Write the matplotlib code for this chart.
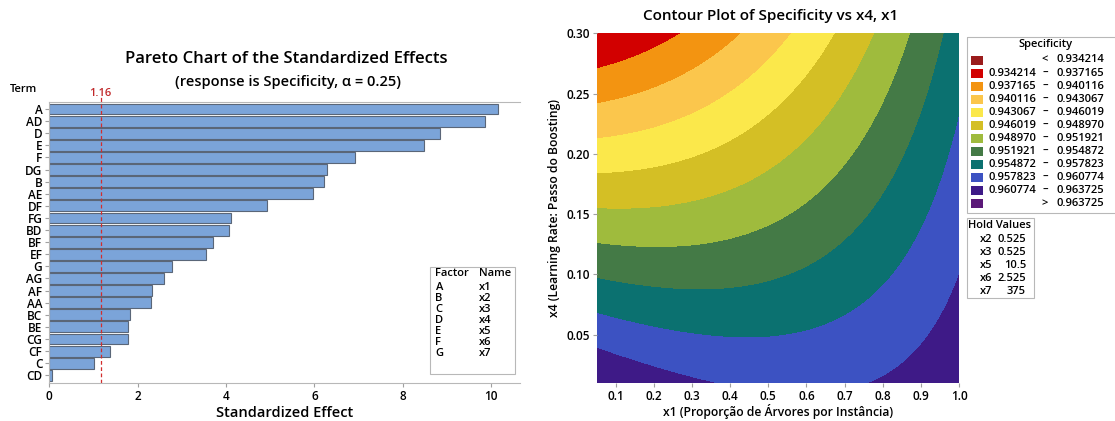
import numpy as np
import matplotlib.pyplot as plt
from matplotlib.patches import Rectangle

plt.rcParams['font.family'] = ['Open Sans', 'DejaVu Sans']

W, H = 1115, 421

# Pareto chart data (standardized effects, largest first)
terms = ['A', 'AD', 'D', 'E', 'F', 'DG', 'B', 'AE', 'DF', 'FG', 'BD', 'BF',
         'EF', 'G', 'AG', 'AF', 'AA', 'BC', 'BE', 'CG', 'CF', 'C', 'CD']
effects = [10.15, 9.86, 8.85, 8.48, 6.91, 6.28, 6.21, 5.96, 4.92, 4.12, 4.06, 3.71,
           3.55, 2.77, 2.60, 2.33, 2.30, 1.83, 1.78, 1.78, 1.37, 1.01, 0.07]
ref_effect = 1.16
factors = ['A', 'B', 'C', 'D', 'E', 'F', 'G']
factor_names = ['x1', 'x2', 'x3', 'x4', 'x5', 'x6', 'x7']

# fitted surface: spec = c0 + c1*x1 + c2*x4 + c3*x1*x4 + c4*x1^2
coef = [0.965472, -0.01577, -0.10603, 0.08353, 0.013297]
x1_range = [0.05, 1.0]
x4_range = [0.01, 0.30]
bounds = [0.934214, 0.937165, 0.940116, 0.943067, 0.946019, 0.948970,
          0.951921, 0.954872, 0.957823, 0.960774, 0.963725]
level_colors = ['#9b1c1c', '#d20000', '#f39411', '#fbc64c', '#fbe84b', '#d4bf25',
                '#9fbb3d', '#447a46', '#0b7170', '#3c52c2', '#3e1a87', '#5b1878']
hold_names = ['x2', 'x3', 'x5', 'x6', 'x7']
hold_vals = ['0.525', '0.525', '10.5', '2.525', '375']

LBL = 'semibold'

fig = plt.figure(figsize=(W / 100, H / 100), dpi=100)


def px_axes(l, t, r, b):
    return fig.add_axes([l / W, 1 - b / H, (r - l) / W, (b - t) / H])


# ---- Pareto chart ----
ax = px_axes(49.3, 102, 519.5, 383.3)
ypos = np.arange(len(terms))
ax.barh(ypos, effects, height=0.9, color='#7ba4d9', edgecolor='#5a6678', linewidth=0.8)
ax.set_ylim(len(terms) - 1 + 0.66, -0.58)
ax.set_xlim(0, 10.64)
ax.set_yticks(ypos)
ax.set_yticklabels(terms, fontsize=8.5, fontweight=LBL)
ax.set_xticks([0, 2, 4, 6, 8, 10])
ax.tick_params(axis='x', labelsize=8.5, length=3, pad=2, color='#a0a0a0')
ax.tick_params(axis='y', length=3, color='#a0a0a0', pad=2)
for lab in ax.get_xticklabels():
    lab.set_fontweight(LBL)
for s in ['left', 'bottom', 'top']:
    ax.spines[s].set_color('#b8b8b8')
ax.spines['right'].set_visible(False)
ax.axvline(ref_effect, color='#d22d2d', linestyle=(0, (3, 2)), linewidth=0.9)
ax.plot([ref_effect, ref_effect], [-0.58, -0.9], color='#d22d2d', linewidth=0.9,
        clip_on=False)
ax.text(ref_effect, -1.32, f'{ref_effect:.2f}', color='#c0282a', fontsize=8,
        fontweight=LBL, ha='center', va='center')
ax.set_xlabel('Standardized Effect', fontsize=10.5, fontweight=LBL, labelpad=2)

fig.text(286 / W, 1 - 59 / H, 'Pareto Chart of the Standardized Effects',
         fontsize=12, fontweight=LBL, ha='center', va='center')
fig.text(288 / W, 1 - 82 / H, '(response is Specificity, \u03b1 = 0.25)',
         fontsize=10.5, fontweight=LBL, ha='center', va='center')
fig.text(23 / W, 1 - 90 / H, 'Term', fontsize=8, fontweight=LBL,
         ha='center', va='center')

# ---- Contour plot ----
cx = px_axes(596.7, 33.3, 959, 383)
x1 = np.linspace(x1_range[0], x1_range[1], 300)
x4 = np.linspace(x4_range[0], x4_range[1], 300)
X1, X4 = np.meshgrid(x1, x4)
Z = coef[0] + coef[1] * X1 + coef[2] * X4 + coef[3] * X1 * X4 + coef[4] * X1 ** 2
levels = [0.90] + bounds + [0.99]
cx.contourf(X1, X4, Z, levels=levels, colors=level_colors)
cx.set_xlim(x1_range)
cx.set_ylim(x4_range)
cx.set_xticks(np.round(np.arange(0.1, 1.01, 0.1), 1))
cx.set_yticks([0.05, 0.10, 0.15, 0.20, 0.25, 0.30])
cx.set_xticklabels([f'{v:.1f}' for v in cx.get_xticks()])
cx.set_yticklabels([f'{v:.2f}' for v in cx.get_yticks()])
cx.tick_params(labelsize=8.5, length=3, pad=2, color='#a0a0a0')
for lab in cx.get_xticklabels() + cx.get_yticklabels():
    lab.set_fontweight(LBL)
for s in cx.spines.values():
    s.set_visible(False)
cx.set_xlabel('x1 (Propor\u00e7\u00e3o de \u00c1rvores por Inst\u00e2ncia)', fontsize=8.7,
              fontweight=LBL, labelpad=1)
cx.set_ylabel('x4 (Learning Rate: Passo do Boosting)', fontsize=8.7,
              fontweight=LBL, labelpad=4)
fig.text(771 / W, 1 - 16 / H, 'Contour Plot of Specificity vs x4, x1',
         fontsize=11, fontweight=LBL, ha='center', va='center')

# ---- legend and hold values, drawn in pixel coordinates ----
ov = fig.add_axes([0, 0, 1, 1])
ov.set_xlim(0, W)
ov.set_ylim(H, 0)
ov.axis('off')

ov.add_patch(Rectangle((430, 267), 84.5, 106.5, fill=False, edgecolor='#b8b8b8',
                       linewidth=0.8))
ov.text(435.5, 274, 'Factor', fontsize=8, fontweight=LBL, va='center')
ov.text(478.5, 274, 'Name', fontsize=8, fontweight=LBL, va='center')
for i, (f, n) in enumerate(zip(factors, factor_names)):
    y = 287.3 + i * 11.1
    ov.text(435.5, y, f, fontsize=8, fontweight=LBL, va='center')
    ov.text(478.5, y, n, fontsize=8, fontweight=LBL, va='center')

ov.add_patch(Rectangle((967, 37), 150, 176, fill=False, edgecolor='#b8b8b8',
                       linewidth=0.8, clip_on=False))
ov.text(1046, 45, 'Specificity', fontsize=8, fontweight=LBL,
        ha='center', va='center')
labels = []
for k in range(len(level_colors)):
    if k == 0:
        labels.append((None, '<', f'{bounds[0]:.6f}'))
    elif k == len(level_colors) - 1:
        labels.append((None, '>', f'{bounds[-1]:.6f}'))
    else:
        labels.append((f'{bounds[k - 1]:.6f}', '\u2013', f'{bounds[k]:.6f}'))
for k, (c, (lo, sep, hi)) in enumerate(zip(level_colors, labels)):
    y = 60 + k * 13.09
    ov.add_patch(Rectangle((970.7, y - 4.5), 12, 9, facecolor=c, edgecolor='none'))
    if lo is not None:
        ov.text(1036, y, lo, fontsize=8, fontweight=LBL, ha='right', va='center')
    ov.text(1045, y, sep, fontsize=8, fontweight=LBL, ha='center', va='center')
    ov.text(1104, y, hi, fontsize=8, fontweight=LBL, ha='right', va='center')

ov.add_patch(Rectangle((966.7, 218.3), 67.3, 80, fill=False, edgecolor='#b8b8b8',
                       linewidth=0.8))
ov.text(1000, 225, 'Hold Values', fontsize=8, fontweight=LBL,
        ha='center', va='center')
for i, (n, v) in enumerate(zip(hold_names, hold_vals)):
    y = 240 + i * 12.75
    ov.text(980, y, n, fontsize=8, fontweight=LBL, va='center')
    ov.text(1026, y, v, fontsize=8, fontweight=LBL, ha='right', va='center')

fig.savefig('out.png', dpi=100)
